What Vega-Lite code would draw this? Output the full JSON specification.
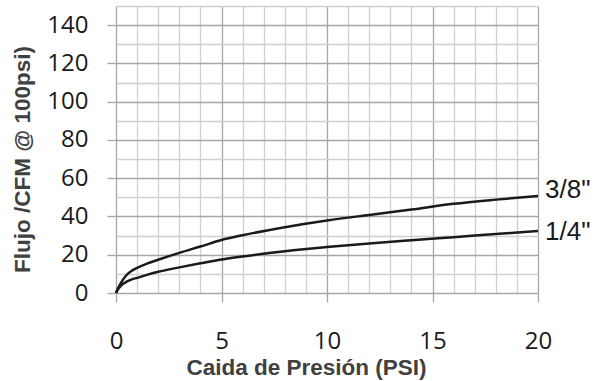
{
  "$schema": "https://vega.github.io/schema/vega-lite/v6.json",
  "width": 422,
  "height": 287,
  "autosize": "none",
  "padding": {"left": 116, "top": 6, "right": 55, "bottom": 88},
  "background": "white",
  "config": {"view": {"stroke": null}},
  "data": {"values": [
    {"series": "3/8\"", "x": 0, "y": 0},
    {"series": "3/8\"", "x": 0.1, "y": 2.6},
    {"series": "3/8\"", "x": 0.25, "y": 5.6},
    {"series": "3/8\"", "x": 0.5, "y": 9.4},
    {"series": "3/8\"", "x": 0.75, "y": 11.6},
    {"series": "3/8\"", "x": 1, "y": 13.1},
    {"series": "3/8\"", "x": 1.5, "y": 15.5},
    {"series": "3/8\"", "x": 2, "y": 17.4},
    {"series": "3/8\"", "x": 3, "y": 21},
    {"series": "3/8\"", "x": 4, "y": 24.3},
    {"series": "3/8\"", "x": 5, "y": 27.7},
    {"series": "3/8\"", "x": 6, "y": 30.2},
    {"series": "3/8\"", "x": 8, "y": 34.4},
    {"series": "3/8\"", "x": 10, "y": 37.9},
    {"series": "3/8\"", "x": 12, "y": 40.8},
    {"series": "3/8\"", "x": 14, "y": 43.6},
    {"series": "3/8\"", "x": 16, "y": 46.6},
    {"series": "3/8\"", "x": 18, "y": 48.8},
    {"series": "3/8\"", "x": 20, "y": 50.7},
    {"series": "1/4\"", "x": 0, "y": 0},
    {"series": "1/4\"", "x": 0.1, "y": 2},
    {"series": "1/4\"", "x": 0.25, "y": 4},
    {"series": "1/4\"", "x": 0.5, "y": 5.9},
    {"series": "1/4\"", "x": 0.75, "y": 7.1},
    {"series": "1/4\"", "x": 1, "y": 7.9},
    {"series": "1/4\"", "x": 1.5, "y": 9.6},
    {"series": "1/4\"", "x": 2, "y": 11.1},
    {"series": "1/4\"", "x": 3, "y": 13.4},
    {"series": "1/4\"", "x": 4, "y": 15.5},
    {"series": "1/4\"", "x": 5, "y": 17.5},
    {"series": "1/4\"", "x": 6, "y": 19.1},
    {"series": "1/4\"", "x": 8, "y": 21.8},
    {"series": "1/4\"", "x": 10, "y": 24},
    {"series": "1/4\"", "x": 12, "y": 25.9},
    {"series": "1/4\"", "x": 14, "y": 27.6},
    {"series": "1/4\"", "x": 16, "y": 29.2},
    {"series": "1/4\"", "x": 18, "y": 30.8},
    {"series": "1/4\"", "x": 20, "y": 32.4}
  ]},
  "encoding": {
    "x": {
      "field": "x", "type": "quantitative",
      "scale": {"domain": [0, 20], "nice": false, "zero": false},
      "axis": {
        "values": [0,1,2,3,4,5,6,7,8,9,10,11,12,13,14,15,16,17,18,19,20],
        "domain": false,
        "grid": true,
        "gridColor": {"condition": {"test": "datum.value % 5 === 0", "value": "#a6a6a6"}, "value": "#d0d0d0"},
        "gridWidth": 1.3,
        "ticks": true,
        "tickSize": 9,
        "tickColor": "#a6a6a6",
        "tickWidth": 1.3,
        "tickOpacity": {"condition": {"test": "datum.value % 5 === 0", "value": 1}, "value": 0},
        "labelExpr": "datum.value % 5 === 0 ? datum.label : ''",
        "labelFont": "Open Sans",
        "labelFontSize": 24,
        "labelColor": "#1a1a1a",
        "labelPadding": 27,
        "labelFlush": false,
        "title": "Caida de Presión (PSI)",
        "titleFont": "Liberation Sans",
        "titleFontSize": 22.5,
        "titleFontWeight": "bold",
        "titleColor": "#404040",
        "titleX": 190,
        "titlePadding": 3
      }
    },
    "y": {
      "field": "y", "type": "quantitative",
      "scale": {"domain": [0, 150], "nice": false},
      "axis": {
        "values": [0,10,20,30,40,50,60,70,80,90,100,110,120,130,140,150],
        "domain": false,
        "grid": true,
        "gridColor": {"condition": {"test": "datum.value % 20 === 0", "value": "#a6a6a6"}, "value": "#d0d0d0"},
        "gridWidth": 1.3,
        "ticks": true,
        "tickSize": 9,
        "tickColor": "#a6a6a6",
        "tickWidth": 1.3,
        "tickOpacity": {"condition": {"test": "datum.value % 20 === 0", "value": 1}, "value": 0},
        "labelExpr": "datum.value % 20 === 0 ? datum.label : ''",
        "labelFont": "Open Sans",
        "labelFontSize": 24,
        "labelColor": "#1a1a1a",
        "labelPadding": 19,
        "labelFlush": false,
        "title": "Flujo /CFM @ 100psi)",
        "titleFont": "Liberation Sans",
        "titleFontSize": 22.5,
        "titleFontWeight": "bold",
        "titleColor": "#404040",
        "titleY": 153,
        "titleX": -94,
        "titleBaseline": "middle"
      }
    }
  },
  "layer": [
    {
      "mark": {"type": "line", "interpolate": "monotone", "color": "#1a1a1a", "strokeWidth": 2.5},
      "encoding": {"detail": {"field": "series"}}
    },
    {
      "transform": [{"filter": "datum.x === 20 && datum.series === '3/8\"'"}],
      "mark": {"type": "text", "align": "left", "baseline": "middle", "dx": 7, "dy": -6, "font": "Liberation Sans", "fontSize": 26, "color": "#1a1a1a"},
      "encoding": {"text": {"field": "series"}}
    },
    {
      "transform": [{"filter": "datum.x === 20 && datum.series === '1/4\"'"}],
      "mark": {"type": "text", "align": "left", "baseline": "middle", "dx": 7, "dy": 1, "font": "Liberation Sans", "fontSize": 26, "color": "#1a1a1a"},
      "encoding": {"text": {"field": "series"}}
    }
  ]
}
